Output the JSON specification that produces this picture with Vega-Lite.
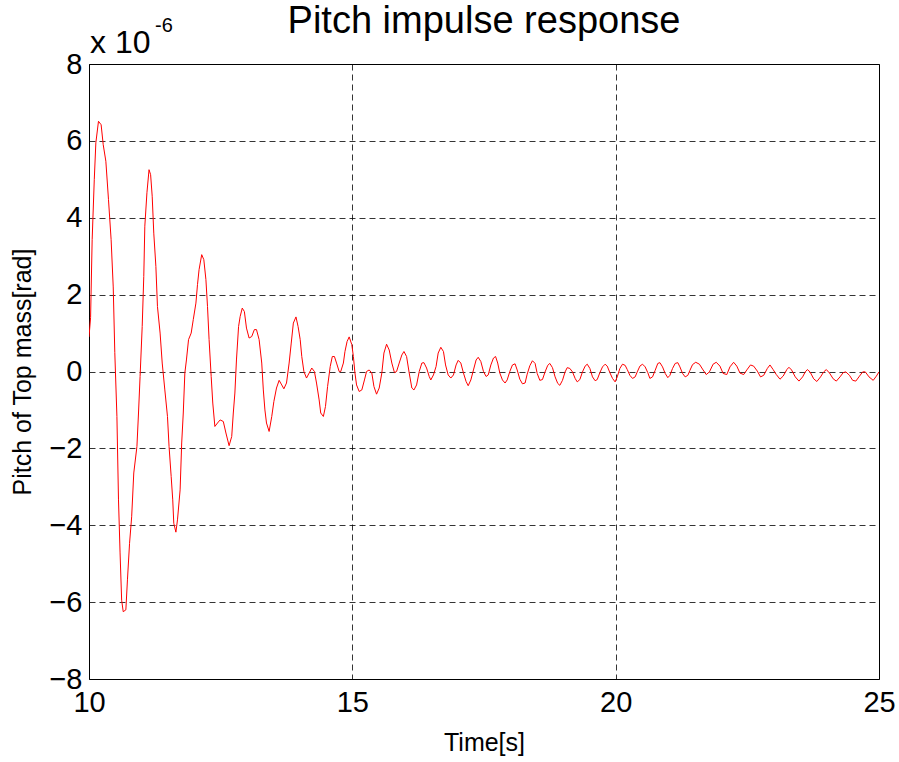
{
  "$schema": "https://vega.github.io/schema/vega-lite/v6.json",
  "autosize": {"type": "none"},
  "width": 790,
  "height": 615,
  "padding": {"left": 89, "top": 64, "right": 20, "bottom": 83},
  "background": "white",
  "title": {"text": "Pitch impulse response", "fontSize": 38, "font": "Liberation Sans", "fontWeight": "normal", "color": "black", "anchor": "middle", "baseline": "bottom", "offset": -63},
  "config": {
    "view": {"stroke": "black", "strokeWidth": 1},
    "axis": {
      "labelFont": "Liberation Sans", "labelFontSize": 29, "labelColor": "black", "labelFlush": false,
      "titleFont": "Liberation Sans", "titleFontSize": 25, "titleFontWeight": "normal", "titleColor": "black",
      "ticks": false, "domain": false,
      "grid": true, "gridColor": "black", "gridDash": [6, 4], "gridOpacity": 1, "gridWidth": 0.8
    }
  },
  "layer": [
    {
      "data": {"values": [
        {"t": 10.00, "v": 0.9}, {"t": 10.03, "v": 1.4}, {"t": 10.06, "v": 3.43}, {"t": 10.10, "v": 4.99}, {"t": 10.13, "v": 5.95}, {"t": 10.18, "v": 6.51}, {"t": 10.23, "v": 6.42}, {"t": 10.27, "v": 5.9}, {"t": 10.32, "v": 5.47}, {"t": 10.37, "v": 4.47}, {"t": 10.42, "v": 3.43}, {"t": 10.46, "v": 2.2}, {"t": 10.49, "v": 0.49}, {"t": 10.53, "v": -1.17}, {"t": 10.56, "v": -3.34}, {"t": 10.59, "v": -4.72}, {"t": 10.62, "v": -5.95}, {"t": 10.65, "v": -6.25}, {"t": 10.70, "v": -6.2}, {"t": 10.73, "v": -5.42}, {"t": 10.77, "v": -4.47}, {"t": 10.81, "v": -3.78}, {"t": 10.85, "v": -2.64}, {"t": 10.91, "v": -1.95}, {"t": 10.94, "v": -1.08}, {"t": 10.97, "v": -0.13},
        {"t": 11.01, "v": 1.17}, {"t": 11.04, "v": 2.47}, {"t": 11.06, "v": 3.78}, {"t": 11.10, "v": 4.65}, {"t": 11.14, "v": 5.25}, {"t": 11.17, "v": 5.12}, {"t": 11.20, "v": 4.56}, {"t": 11.23, "v": 3.6}, {"t": 11.27, "v": 2.73}, {"t": 11.30, "v": 1.69}, {"t": 11.35, "v": 1.0}, {"t": 11.39, "v": 0.22}, {"t": 11.44, "v": -0.48}, {"t": 11.49, "v": -1.17}, {"t": 11.52, "v": -1.95}, {"t": 11.56, "v": -2.73}, {"t": 11.59, "v": -3.34}, {"t": 11.61, "v": -3.95}, {"t": 11.65, "v": -4.18}, {"t": 11.68, "v": -3.86}, {"t": 11.73, "v": -3.08}, {"t": 11.76, "v": -1.86}, {"t": 11.79, "v": -1.08}, {"t": 11.82, "v": -0.04}, {"t": 11.85, "v": 0.3}, {"t": 11.89, "v": 0.83}, {"t": 11.94, "v": 1.0}, {"t": 11.98, "v": 1.35},
        {"t": 12.03, "v": 1.78}, {"t": 12.06, "v": 2.26}, {"t": 12.09, "v": 2.65}, {"t": 12.14, "v": 3.04}, {"t": 12.18, "v": 2.91}, {"t": 12.22, "v": 2.39}, {"t": 12.25, "v": 1.69}, {"t": 12.28, "v": 0.83}, {"t": 12.32, "v": -0.13}, {"t": 12.35, "v": -0.82}, {"t": 12.39, "v": -1.43}, {"t": 12.44, "v": -1.34}, {"t": 12.49, "v": -1.26}, {"t": 12.55, "v": -1.3}, {"t": 12.60, "v": -1.6}, {"t": 12.66, "v": -1.93}, {"t": 12.71, "v": -1.69}, {"t": 12.74, "v": -1.08}, {"t": 12.77, "v": -0.56}, {"t": 12.80, "v": 0.3}, {"t": 12.84, "v": 1.17}, {"t": 12.87, "v": 1.43}, {"t": 12.91, "v": 1.65}, {"t": 12.95, "v": 1.56}, {"t": 12.99, "v": 1.13},
        {"t": 13.04, "v": 0.87}, {"t": 13.09, "v": 0.91}, {"t": 13.14, "v": 1.09}, {"t": 13.18, "v": 1.09}, {"t": 13.23, "v": 0.83}, {"t": 13.28, "v": 0.22}, {"t": 13.31, "v": -0.48}, {"t": 13.34, "v": -1.0}, {"t": 13.37, "v": -1.34}, {"t": 13.42, "v": -1.56}, {"t": 13.47, "v": -1.17}, {"t": 13.51, "v": -0.78}, {"t": 13.56, "v": -0.43}, {"t": 13.61, "v": -0.23}, {"t": 13.66, "v": -0.35}, {"t": 13.70, "v": -0.45}, {"t": 13.75, "v": -0.3}, {"t": 13.80, "v": 0.22}, {"t": 13.84, "v": 0.74}, {"t": 13.88, "v": 1.26}, {"t": 13.93, "v": 1.42}, {"t": 13.97, "v": 1.17},
        {"t": 14.01, "v": 0.83}, {"t": 14.04, "v": 0.39}, {"t": 14.08, "v": 0.0}, {"t": 14.13, "v": -0.17}, {"t": 14.18, "v": -0.04}, {"t": 14.23, "v": 0.09}, {"t": 14.28, "v": 0.0}, {"t": 14.32, "v": -0.3}, {"t": 14.37, "v": -0.74}, {"t": 14.40, "v": -1.08}, {"t": 14.45, "v": -1.17}, {"t": 14.49, "v": -0.91}, {"t": 14.53, "v": -0.39}, {"t": 14.58, "v": 0.13}, {"t": 14.62, "v": 0.39}, {"t": 14.66, "v": 0.39}, {"t": 14.70, "v": 0.22}, {"t": 14.75, "v": 0.0}, {"t": 14.78, "v": 0.0}, {"t": 14.83, "v": 0.22}, {"t": 14.86, "v": 0.52}, {"t": 14.90, "v": 0.78}, {"t": 14.94, "v": 0.9}, {"t": 14.99, "v": 0.7},
        {"t": 15.02, "v": 0.39}, {"t": 15.05, "v": -0.04}, {"t": 15.08, "v": -0.35}, {"t": 15.13, "v": -0.52}, {"t": 15.18, "v": -0.48}, {"t": 15.23, "v": -0.22}, {"t": 15.27, "v": 0.0}, {"t": 15.32, "v": 0.04}, {"t": 15.37, "v": -0.04}, {"t": 15.41, "v": -0.39}, {"t": 15.46, "v": -0.59}, {"t": 15.51, "v": -0.43}, {"t": 15.56, "v": -0.04}, {"t": 15.60, "v": 0.48}, {"t": 15.65, "v": 0.71}, {"t": 15.70, "v": 0.56}, {"t": 15.75, "v": 0.22}, {"t": 15.80, "v": -0.03}, {"t": 15.84, "v": 0.0}, {"t": 15.89, "v": 0.22}, {"t": 15.94, "v": 0.43}, {"t": 15.98, "v": 0.52},
        {"t": 16.03, "v": 0.39}, {"t": 16.08, "v": -0.04}, {"t": 16.13, "v": -0.43}, {"t": 16.17, "v": -0.48}, {"t": 16.22, "v": -0.35}, {"t": 16.27, "v": 0.0}, {"t": 16.32, "v": 0.22}, {"t": 16.36, "v": 0.23}, {"t": 16.41, "v": 0.09}, {"t": 16.46, "v": -0.13}, {"t": 16.49, "v": -0.22}, {"t": 16.54, "v": -0.09}, {"t": 16.59, "v": 0.13}, {"t": 16.63, "v": 0.48}, {"t": 16.68, "v": 0.63}, {"t": 16.73, "v": 0.52}, {"t": 16.77, "v": 0.17}, {"t": 16.82, "v": -0.09}, {"t": 16.87, "v": -0.17}, {"t": 16.92, "v": -0.09}, {"t": 16.97, "v": 0.17},
        {"t": 17.01, "v": 0.29}, {"t": 17.06, "v": 0.22}, {"t": 17.11, "v": -0.04}, {"t": 17.16, "v": -0.26}, {"t": 17.20, "v": -0.37}, {"t": 17.25, "v": -0.22}, {"t": 17.30, "v": 0.04}, {"t": 17.35, "v": 0.3}, {"t": 17.39, "v": 0.37}, {"t": 17.44, "v": 0.26}, {"t": 17.49, "v": 0.0}, {"t": 17.54, "v": -0.13}, {"t": 17.58, "v": -0.09}, {"t": 17.63, "v": 0.17}, {"t": 17.68, "v": 0.35}, {"t": 17.72, "v": 0.39}, {"t": 17.76, "v": 0.22}, {"t": 17.80, "v": -0.04}, {"t": 17.85, "v": -0.22}, {"t": 17.90, "v": -0.3}, {"t": 17.94, "v": -0.22}, {"t": 17.99, "v": 0.0},
        {"t": 18.04, "v": 0.17}, {"t": 18.09, "v": 0.2}, {"t": 18.13, "v": 0.04}, {"t": 18.18, "v": -0.2}, {"t": 18.23, "v": -0.32}, {"t": 18.28, "v": -0.3}, {"t": 18.32, "v": -0.07}, {"t": 18.37, "v": 0.15}, {"t": 18.42, "v": 0.28}, {"t": 18.47, "v": 0.21}, {"t": 18.51, "v": -0.05}, {"t": 18.56, "v": -0.23}, {"t": 18.61, "v": -0.21}, {"t": 18.66, "v": -0.01}, {"t": 18.71, "v": 0.16}, {"t": 18.75, "v": 0.21}, {"t": 18.80, "v": 0.1}, {"t": 18.85, "v": -0.14}, {"t": 18.90, "v": -0.31}, {"t": 18.94, "v": -0.36}, {"t": 18.99, "v": -0.23},
        {"t": 19.04, "v": -0.01}, {"t": 19.08, "v": 0.1}, {"t": 19.13, "v": 0.08}, {"t": 19.18, "v": -0.01}, {"t": 19.23, "v": -0.18}, {"t": 19.27, "v": -0.27}, {"t": 19.32, "v": -0.21}, {"t": 19.37, "v": -0.01}, {"t": 19.42, "v": 0.14}, {"t": 19.46, "v": 0.19}, {"t": 19.51, "v": 0.08}, {"t": 19.56, "v": -0.14}, {"t": 19.61, "v": -0.24}, {"t": 19.65, "v": -0.21}, {"t": 19.70, "v": -0.03}, {"t": 19.75, "v": 0.12}, {"t": 19.80, "v": 0.19}, {"t": 19.84, "v": 0.14}, {"t": 19.89, "v": -0.03}, {"t": 19.94, "v": -0.18}, {"t": 19.99, "v": -0.27},
        {"t": 20.03, "v": -0.14}, {"t": 20.08, "v": 0.08}, {"t": 20.13, "v": 0.19}, {"t": 20.18, "v": 0.16}, {"t": 20.22, "v": 0.05}, {"t": 20.27, "v": -0.1}, {"t": 20.32, "v": -0.18}, {"t": 20.37, "v": -0.14}, {"t": 20.41, "v": -0.01}, {"t": 20.46, "v": 0.14}, {"t": 20.51, "v": 0.19}, {"t": 20.56, "v": 0.12}, {"t": 20.61, "v": -0.03}, {"t": 20.65, "v": -0.18}, {"t": 20.70, "v": -0.14}, {"t": 20.75, "v": 0.03}, {"t": 20.80, "v": 0.21}, {"t": 20.84, "v": 0.23}, {"t": 20.89, "v": 0.12}, {"t": 20.94, "v": -0.05}, {"t": 20.99, "v": -0.16},
        {"t": 21.03, "v": -0.1}, {"t": 21.08, "v": 0.08}, {"t": 21.13, "v": 0.21}, {"t": 21.18, "v": 0.23}, {"t": 21.22, "v": 0.12}, {"t": 21.27, "v": -0.05}, {"t": 21.32, "v": -0.14}, {"t": 21.37, "v": -0.1}, {"t": 21.41, "v": 0.03}, {"t": 21.46, "v": 0.18}, {"t": 21.52, "v": 0.24}, {"t": 21.59, "v": 0.19}, {"t": 21.66, "v": 0.04}, {"t": 21.72, "v": -0.08}, {"t": 21.78, "v": -0.01}, {"t": 21.85, "v": 0.19}, {"t": 21.91, "v": 0.24}, {"t": 21.98, "v": 0.14},
        {"t": 22.04, "v": -0.05}, {"t": 22.11, "v": -0.08}, {"t": 22.17, "v": 0.12}, {"t": 22.24, "v": 0.24}, {"t": 22.30, "v": 0.14}, {"t": 22.36, "v": -0.04}, {"t": 22.43, "v": -0.08}, {"t": 22.49, "v": 0.04}, {"t": 22.56, "v": 0.17}, {"t": 22.62, "v": 0.14}, {"t": 22.69, "v": 0.01}, {"t": 22.75, "v": -0.14}, {"t": 22.81, "v": -0.1}, {"t": 22.88, "v": 0.08}, {"t": 22.93, "v": 0.17}, {"t": 22.99, "v": 0.05},
        {"t": 23.05, "v": -0.08}, {"t": 23.12, "v": -0.2}, {"t": 23.18, "v": -0.12}, {"t": 23.25, "v": 0.05}, {"t": 23.29, "v": 0.11}, {"t": 23.34, "v": 0.04}, {"t": 23.41, "v": -0.14}, {"t": 23.48, "v": -0.25}, {"t": 23.55, "v": -0.14}, {"t": 23.60, "v": -0.01}, {"t": 23.64, "v": 0.05}, {"t": 23.69, "v": -0.01}, {"t": 23.76, "v": -0.19}, {"t": 23.82, "v": -0.26}, {"t": 23.89, "v": -0.14}, {"t": 23.95, "v": -0.01},
        {"t": 24.00, "v": 0.05}, {"t": 24.06, "v": -0.04}, {"t": 24.13, "v": -0.19}, {"t": 24.19, "v": -0.25}, {"t": 24.26, "v": -0.14}, {"t": 24.32, "v": -0.03}, {"t": 24.37, "v": -0.01}, {"t": 24.44, "v": -0.1}, {"t": 24.50, "v": -0.23}, {"t": 24.56, "v": -0.25}, {"t": 24.63, "v": -0.12}, {"t": 24.69, "v": -0.01}, {"t": 24.74, "v": -0.01}, {"t": 24.81, "v": -0.14}, {"t": 24.89, "v": -0.23}, {"t": 24.95, "v": -0.12}, {"t": 25.00, "v": -0.01}
      ]},
      "mark": {"type": "line", "color": "#ff0000", "strokeWidth": 1, "clip": true},
      "encoding": {
        "x": {"field": "t", "type": "quantitative", "scale": {"domain": [10, 25], "nice": false, "zero": false},
              "axis": {"values": [10, 15, 20, 25], "title": "Time[s]", "labelPadding": 9, "titlePadding": 13}},
        "y": {"field": "v", "type": "quantitative", "scale": {"domain": [-8, 8], "nice": false},
              "axis": {"values": [-8, -6, -4, -2, 0, 2, 4, 6, 8], "title": "Pitch of Top mass[rad]", "labelPadding": 7, "titlePadding": 13}}
      }
    },
    {
      "data": {"values": [{"label": "x 10"}]},
      "mark": {"type": "text", "align": "left", "baseline": "alphabetic", "dx": 1, "dy": -11, "fontSize": 32, "font": "Liberation Sans", "color": "black"},
      "encoding": {"x": {"datum": 10, "type": "quantitative"}, "y": {"datum": 8, "type": "quantitative"}, "text": {"field": "label"}}
    },
    {
      "data": {"values": [{"label": "-6"}]},
      "mark": {"type": "text", "align": "left", "baseline": "alphabetic", "dx": 66, "dy": -32, "fontSize": 20, "font": "Liberation Sans", "color": "black"},
      "encoding": {"x": {"datum": 10, "type": "quantitative"}, "y": {"datum": 8, "type": "quantitative"}, "text": {"field": "label"}}
    }
  ]
}
